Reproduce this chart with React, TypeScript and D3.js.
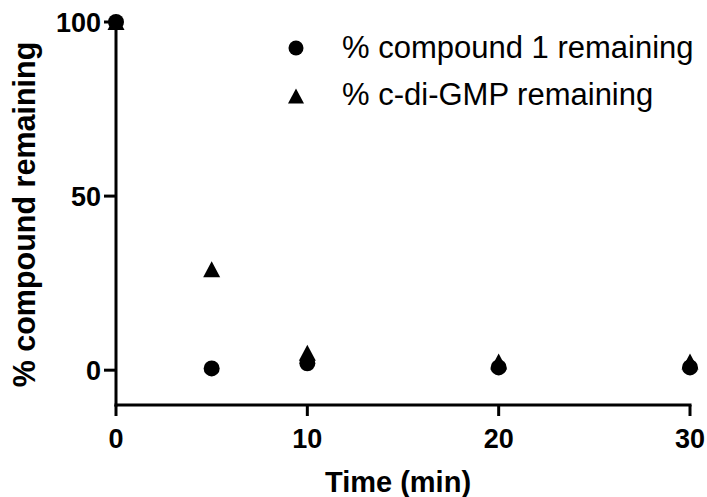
import React from "react";
import * as d3 from "d3";

const times = [0, 5, 10, 20, 30];
const compound1 = [100, 0.5, 2, 0.8, 0.8];
const cdiGMP = [100, 29, 5, 2.5, 2.5];
const xTicks = [0, 10, 20, 30];
const yTicks = [0, 50, 100];
const legendLabels = ["% compound 1 remaining", "% c-di-GMP remaining"];
const xTitle = "Time (min)";
const yTitle = "% compound remaining";

const W = 707;
const H = 497;
const FONT = "'Liberation Sans', Arial, Helvetica, sans-serif";

function triPath(cx: number, cy: number, w: number, h: number) {
  return `M${cx},${cy - h / 2}L${cx + w / 2},${cy + h / 2}L${cx - w / 2},${cy + h / 2}Z`;
}

export default function App() {
  const x = d3.scaleLinear().domain([0, 30]).range([116, 690]);
  const y = d3.scaleLinear().domain([-10, 100]).range([405, 22]);

  return (
    <svg
      width={W}
      height={H}
      style={{ position: "absolute", left: 0, top: 0, background: "#fff" }}
      fontFamily={FONT}
    >
      <rect x={0} y={0} width={W} height={H} fill="#fff" />
      {/* axes */}
      <line x1={x(0)} x2={x(0)} y1={y(100)} y2={y(-10) + 1.5} stroke="#000" strokeWidth={3} />
      <line x1={x(0) - 1.5} x2={x(30) + 1.5} y1={y(-10)} y2={y(-10)} stroke="#000" strokeWidth={3} />
      {yTicks.map((t) => (
        <g key={"y" + t}>
          <line x1={x(0) - 12} x2={x(0)} y1={y(t)} y2={y(t)} stroke="#000" strokeWidth={3} />
          <text
            x={x(0) - 15}
            y={y(t)}
            dy="0.36em"
            textAnchor="end"
            fontSize={27}
            fontWeight="bold"
          >
            {t}
          </text>
        </g>
      ))}
      {xTicks.map((t) => (
        <g key={"x" + t}>
          <line x1={x(t)} x2={x(t)} y1={y(-10)} y2={y(-10) + 11} stroke="#000" strokeWidth={3} />
          <text x={x(t)} y={448} textAnchor="middle" fontSize={27} fontWeight="bold">
            {t}
          </text>
        </g>
      ))}
      {/* titles */}
      <text x={398} y={492} textAnchor="middle" fontSize={29} fontWeight="bold">
        {xTitle}
      </text>
      <text
        transform={`translate(35,${(y(100) + y(-10)) / 2 + 1}) rotate(-90)`}
        textAnchor="middle"
        fontSize={30.5}
        fontWeight="bold"
      >
        {yTitle}
      </text>
      {/* data */}
      {times.map((t, i) => (
        <path key={"t" + i} d={triPath(x(t), y(cdiGMP[i]), 17, 16)} fill="#000" />
      ))}
      {times.map((t, i) => (
        <circle key={"c" + i} cx={x(t)} cy={y(compound1[i])} r={8} fill="#000" />
      ))}
      {/* legend */}
      <circle cx={296} cy={48} r={7.5} fill="#000" />
      <path d={triPath(296, 96, 16, 15)} fill="#000" />
      <text x={342} y={58} fontSize={31}>
        {legendLabels[0]}
      </text>
      <text x={342} y={105} fontSize={31}>
        {legendLabels[1]}
      </text>
    </svg>
  );
}
